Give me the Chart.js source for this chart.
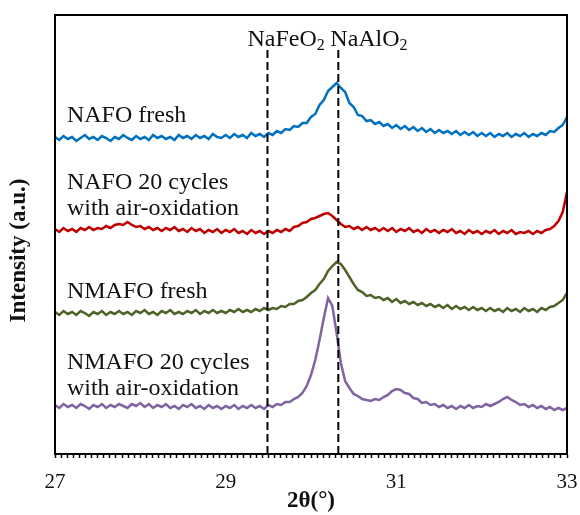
<!DOCTYPE html>
<html>
<head>
<meta charset="utf-8">
<script src="https://cdn.jsdelivr.net/npm/chart.js@4.4.1/dist/chart.umd.min.js"></script>
<style>
html,body{margin:0;padding:0;background:#fff;}
#wrap{width:580px;height:515px;position:relative;}
</style>
</head>
<body>
<div id="wrap"><canvas id="c" width="580" height="515"></canvas></div>
<script>
// 2θ (degrees)
const twoTheta = [
27.00,27.05,27.10,27.15,27.20,27.25,27.30,27.35,27.40,27.45,27.50,27.55,27.60,27.65,27.70,27.75,27.80,27.85,27.90,27.95,
28.00,28.05,28.10,28.15,28.20,28.25,28.30,28.35,28.40,28.45,28.50,28.55,28.60,28.65,28.70,28.75,28.80,28.85,28.90,28.95,
29.00,29.05,29.10,29.15,29.20,29.25,29.30,29.35,29.40,29.45,29.50,29.55,29.60,29.65,29.70,29.75,29.80,29.85,29.90,29.95,
30.00,30.05,30.10,30.15,30.20,30.25,30.30,30.35,30.40,30.45,30.50,30.55,30.60,30.65,30.70,30.75,30.80,30.85,30.90,30.95,
31.00,31.05,31.10,31.15,31.20,31.25,31.30,31.35,31.40,31.45,31.50,31.55,31.60,31.65,31.70,31.75,31.80,31.85,31.90,31.95,
32.00,32.05,32.10,32.15,32.20,32.25,32.30,32.35,32.40,32.45,32.50,32.55,32.60,32.65,32.70,32.75,32.80,32.85,32.90,32.95,
33.00];

// Intensities (a.u., stacked with offsets as in the figure)
const nafoFresh = [
317,314,318,315,317,313,316,319,315,317,314,318,316,313,317,315,319,316,314,318,
315,317,314,319,316,318,315,317,314,319,316,318,315,319,316,318,315,320,317,316,
319,316,320,317,319,316,321,318,320,317,321,319,323,321,325,324,328,327,331,331,
337,340,349,354,363,367,371,366,362,351,347,339,338,333,334,330,332,328,330,326,
329,325,328,324,327,323,326,322,325,321,324,321,323,320,323,319,322,319,322,318,
321,318,321,317,320,318,321,317,320,318,321,317,320,318,321,319,323,322,326,329,
337];

const nafo20Cycles = [
225,222,226,223,225,222,226,224,227,224,226,225,228,226,229,230,229,232,229,227,
228,225,227,224,226,223,226,224,227,223,225,222,226,223,225,221,224,222,225,221,
224,222,225,221,223,220,224,221,223,220,223,221,224,222,225,223,227,228,231,232,
235,236,238,240,241,238,234,230,227,228,225,227,224,227,224,226,223,226,223,226,
222,225,223,226,222,224,221,225,222,224,221,224,222,225,221,223,220,224,221,223,
220,223,221,224,220,223,221,224,220,222,221,223,220,223,221,224,225,228,233,242,
262];

const nmafoFresh = [
142,139,143,140,142,139,143,141,138,142,140,143,139,142,140,143,140,142,139,143,
141,144,140,142,139,143,141,144,140,142,140,143,141,144,140,143,141,144,141,143,
141,144,142,145,142,144,142,145,143,146,144,146,145,148,147,150,150,153,154,157,
161,164,170,175,183,188,192,190,184,177,170,164,162,158,159,156,157,154,156,152,
155,151,153,150,152,149,151,148,150,147,149,146,149,145,148,145,147,144,147,144,
146,143,146,143,145,142,146,143,145,142,146,143,145,142,146,144,147,148,151,154,
161];

const nmafo20Cycles = [
49,46,50,47,49,46,50,48,45,49,47,50,46,49,47,50,48,46,50,48,
51,47,50,46,49,47,50,46,48,45,49,47,50,46,48,45,49,46,48,45,
48,46,49,45,48,46,49,46,48,45,49,47,50,49,52,52,55,57,61,68,
79,94,114,136,156,148,121,91,73,66,60,58,55,54,53,55,54,57,59,63,
65,64,61,60,56,55,51,52,49,50,47,49,46,48,45,48,46,49,46,48,
47,50,48,50,52,55,57,54,52,49,50,47,49,46,48,45,47,44,46,44,
46];

// Reference phase positions (2θ) and names
const refPositions = [29.49, 30.32];
const refNames = [["NaFeO","2"], ["NaAlO","2"]];
const refLineTop = 406;

// Series names (as printed beside curves)
const seriesLabels = [
  ["NAFO fresh"],
  ["NAFO 20 cycles", "with air-oxidation"],
  ["NMAFO fresh"],
  ["NMAFO 20 cycles", "with air-oxidation"]
];
const seriesLabelY = [332, 265, 156, 85];

// Axis ticks
const majorTicks = [27, 29, 31, 33];
const minorPerMajor = 28;

const colors = ['#0070C0', '#C00000', '#4F6228', '#8064A2'];
const seriesData = [nafoFresh, nafo20Cycles, nmafoFresh, nmafo20Cycles];

const datasets = seriesData.map((s, k) => ({
  label: seriesLabels[k].join(' '),
  data: twoTheta.map((t, i) => ({x: t, y: s[i]})),
  borderColor: colors[k],
  borderWidth: 2.5,
  pointRadius: 0,
  tension: 0,
  fill: false,
  order: 1
}));
refPositions.forEach((p, k) => {
  datasets.push({
    label: refNames[k].join(''),
    data: [{x: p, y: 0}, {x: p, y: refLineTop}],
    borderColor: '#000',
    borderWidth: 2,
    borderDash: [8, 4],
    pointRadius: 0,
    order: 0
  });
});

const SERIF = '"Liberation Serif", "Times New Roman", serif';

const annotate = {
  id: 'annotate',
  afterDatasetsDraw(chart) {
    const {ctx, chartArea: a, scales: {x, y}} = chart;
    ctx.save();
    // frame
    ctx.strokeStyle = '#000';
    ctx.lineWidth = 2;
    ctx.strokeRect(a.left, a.top, a.right - a.left, a.bottom - a.top);
    // series labels
    ctx.fillStyle = '#111';
    ctx.textAlign = 'left';
    ctx.textBaseline = 'alphabetic';
    ctx.font = '24px ' + SERIF;
    seriesLabels.forEach((lines, k) => {
      lines.forEach((ln, j) => {
        ctx.fillText(ln, x.getPixelForValue(27.14), y.getPixelForValue(seriesLabelY[k]) + j * 26);
      });
    });
    // reference names
    refNames.forEach((nm, k) => {
      const px = x.getPixelForValue(refPositions[k]);
      const left = k === 0 ? px - 20 : px - 8;
      const base = y.getPixelForValue(refLineTop) - 2;
      ctx.font = '24px ' + SERIF;
      ctx.fillText(nm[0], left, base);
      const w = ctx.measureText(nm[0]).width;
      ctx.font = '16px ' + SERIF;
      ctx.fillText(nm[1], left + w, base + 4);
    });
    // y title
    ctx.translate(19, (a.top + a.bottom) / 2 + 16);
    ctx.rotate(-Math.PI / 2);
    ctx.textAlign = 'center';
    ctx.textBaseline = 'middle';
    ctx.font = 'bold 23px ' + SERIF;
    ctx.fillText('Intensity (a.u.)', 0, 0);
    ctx.restore();
  }
};

new Chart(document.getElementById('c'), {
  type: 'line',
  data: {datasets},
  options: {
    responsive: false,
    animation: false,
    layout: {padding: {top: 15, right: 13, left: 0, bottom: 0}},
    plugins: {legend: {display: false}, tooltip: {enabled: false}},
    scales: {
      x: {
        type: 'linear',
        min: 27, max: 33,
        afterBuildTicks(scale) {
          const t = [];
          for (let i = 0; i <= (majorTicks.length - 1) * minorPerMajor; i++) {
            t.push({value: majorTicks[0] + i * (majorTicks[1] - majorTicks[0]) / minorPerMajor});
          }
          scale.ticks = t;
        },
        afterFit(scale) { scale.height = 61; scale.paddingLeft = 0; scale.paddingRight = 0; },
        border: {display: true, color: '#000', width: 2},
        grid: {drawOnChartArea: false, drawTicks: true, tickLength: 4, tickColor: '#000', tickWidth: 1.5},
        ticks: {
          autoSkip: false, maxRotation: 0, padding: 12, color: '#111',
          font: {family: SERIF, size: 21},
          callback(v) {
            const m = majorTicks.find(mt => Math.abs(mt - v) < 1e-6);
            return m === undefined ? '' : String(m);
          }
        },
        title: {display: true, text: '2θ(°)', color: '#111', font: {family: SERIF, size: 23, weight: 'bold'}, padding: {top: 0, bottom: 0}}
      },
      y: {
        min: 0, max: 439,
        afterFit(scale) { scale.width = 55; scale.paddingTop = 0; scale.paddingBottom = 0; },
        border: {display: true, color: '#000', width: 2},
        grid: {drawOnChartArea: false, drawTicks: false},
        ticks: {display: false},
        title: {display: false}
      }
    }
  },
  plugins: [annotate]
});
</script>
</body>
</html>
